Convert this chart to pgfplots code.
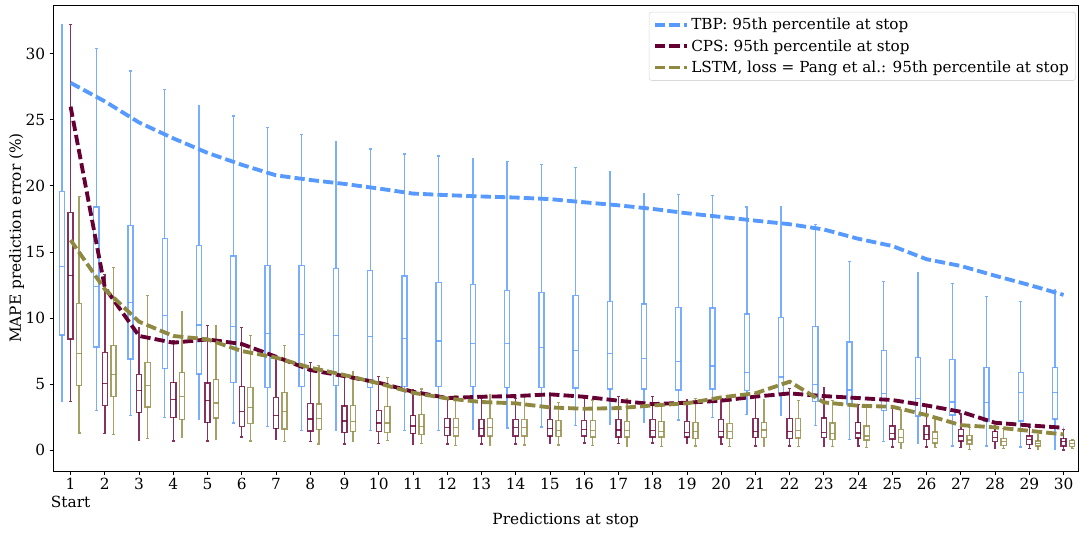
\documentclass[border=0pt]{standalone}
\usepackage{fontspec}
\setmainfont{DejaVu Serif}
\usepackage{pgfplots}
\usepackage{pgfplotstable}
\pgfplotsset{compat=1.18}
\usepgfplotslibrary{statistics}
\definecolor{tbpc}{RGB}{87,154,255}
\definecolor{cpsc}{RGB}{102,0,51}
\definecolor{lstmc}{RGB}{143,136,64}

% stop  lower-whisker  Q1  median  Q3  upper-whisker  95th percentile
\pgfplotstableread{
stop lw q1 med q3 uw p95
1 3.70 8.70 13.90 19.60 32.20 27.80
2 3.00 7.80 12.40 18.40 30.40 26.40
3 2.60 6.90 11.16 17.00 28.70 24.80
4 2.48 6.19 10.20 16.00 27.30 23.60
5 2.30 5.76 9.47 15.50 26.10 22.50
6 2.05 5.13 9.37 14.70 25.30 21.60
7 1.79 4.72 8.84 13.97 24.40 20.80
8 1.49 4.82 8.76 13.97 23.90 20.45
9 1.49 4.87 8.69 13.76 23.36 20.15
10 1.49 4.75 8.60 13.60 22.80 19.80
11 1.49 4.82 8.46 13.18 22.42 19.42
12 1.49 4.82 8.26 12.70 22.27 19.30
13 1.56 4.82 8.08 12.55 22.07 19.20
14 1.67 4.75 8.08 12.10 21.87 19.12
15 1.74 4.72 7.75 11.95 21.64 19.00
16 1.84 4.70 7.52 11.72 21.40 18.76
17 1.97 4.62 7.30 11.26 21.10 18.53
18 2.10 4.62 6.94 11.06 19.40 18.26
19 2.27 4.55 6.69 10.80 19.34 17.93
20 2.48 4.62 6.36 10.76 19.27 17.65
21 2.70 4.50 5.88 10.30 18.39 17.37
22 2.63 4.30 5.53 10.05 18.46 17.10
23 1.87 3.70 4.97 9.34 17.10 16.70
24 0.81 3.50 4.55 8.18 14.30 16.00
25 0.63 3.00 4.27 7.52 12.78 15.45
26 0.48 2.58 3.90 6.99 13.41 14.45
27 0.30 2.65 3.64 6.87 12.63 13.94
28 0.30 2.15 3.59 6.24 11.62 13.20
29 0.23 2.20 4.37 5.88 11.24 12.50
30 0.08 2.35 4.37 6.24 12.12 11.75
}\tbp

\pgfplotstableread{
stop lw q1 med q3 uw p95
1 3.70 8.40 13.20 18.00 32.20 26.00
2 1.24 3.36 5.05 7.40 13.30 12.30
3 0.76 2.85 4.52 5.73 9.27 8.64
4 0.68 2.48 3.84 5.10 8.26 8.13
5 0.68 2.10 3.76 5.08 9.42 8.38
6 1.00 1.77 2.90 4.80 9.27 8.03
7 0.81 1.64 2.60 3.99 7.07 7.07
8 0.66 1.44 2.35 3.53 6.61 6.06
9 0.45 1.34 2.20 3.33 5.68 5.60
10 0.50 1.39 2.05 3.00 5.56 5.10
11 0.43 1.26 1.82 2.60 4.57 4.42
12 0.45 1.11 1.72 2.40 3.90 3.94
13 0.45 1.06 1.64 2.32 3.90 4.04
14 0.45 1.06 1.72 2.32 3.90 4.09
15 0.48 1.06 1.64 2.32 4.09 4.22
16 0.53 1.06 1.56 2.25 3.90 4.04
17 0.48 1.00 1.52 2.32 4.04 3.74
18 0.53 1.00 1.49 2.32 4.04 3.48
19 0.53 0.98 1.31 2.17 3.79 3.59
20 0.45 0.98 1.41 2.32 3.90 3.74
21 0.30 0.96 1.41 2.40 4.29 4.05
22 0.30 0.86 1.39 2.37 4.67 4.29
23 0.28 0.93 1.34 2.42 4.72 4.09
24 0.30 0.91 1.29 2.07 3.46 3.94
25 0.23 0.83 1.24 1.82 3.16 3.79
26 0.23 0.81 1.16 1.82 3.28 3.38
27 0.18 0.68 1.06 1.57 2.73 2.90
28 0.13 0.63 0.96 1.39 1.82 2.07
29 0.13 0.43 0.81 1.06 1.72 1.87
30 0.00 0.30 0.63 0.86 1.57 1.69
}\cps

\pgfplotstableread{
stop lw q1 med q3 uw p95
1 1.30 4.90 7.30 11.10 19.20 15.90
2 1.16 4.07 5.70 7.90 13.80 12.17
3 0.86 3.26 4.90 6.64 11.70 9.72
4 0.93 2.32 4.04 5.86 10.45 8.64
5 0.81 2.42 3.56 5.33 9.42 8.38
6 0.68 2.00 3.21 4.75 8.69 7.50
7 0.63 1.59 2.90 4.34 7.90 7.00
8 0.45 1.57 2.40 3.50 6.39 6.24
9 0.66 1.41 2.17 3.36 5.96 5.68
10 0.71 1.31 2.05 3.28 5.48 5.05
11 0.50 1.16 1.80 2.68 4.62 4.34
12 0.33 1.06 1.72 2.40 4.14 3.91
13 0.33 1.06 1.70 2.40 4.22 3.64
14 0.38 1.06 1.70 2.32 4.09 3.54
15 0.38 1.03 1.49 2.22 3.61 3.23
16 0.33 1.00 1.49 2.22 3.79 3.13
17 0.28 0.98 1.47 2.17 3.91 3.18
18 0.28 0.98 1.41 2.15 3.36 3.38
19 0.30 0.88 1.41 2.10 3.89 3.54
20 0.25 0.88 1.39 2.02 3.84 3.99
21 0.25 0.93 1.52 2.07 3.84 4.30
22 0.25 0.91 1.46 2.37 3.76 5.18
23 0.25 0.78 1.26 2.05 3.74 3.61
24 0.20 0.76 1.06 1.82 3.38 3.36
25 0.13 0.56 0.96 1.57 3.03 3.28
26 0.18 0.53 0.86 1.36 2.35 2.65
27 0.05 0.45 0.76 1.09 1.70 1.89
28 0.10 0.35 0.63 0.86 1.64 1.72
29 0.05 0.30 0.50 0.68 1.14 1.46
30 0.13 0.25 0.48 0.71 0.81 1.19
}\lstm

% draw one prepared box plot from row #2 of table #1, colour #3, position #4
\newcommand\boxfromtable[4]{%
  \pgfplotstablegetelem{#2}{lw}\of#1\let\bLW\pgfplotsretval
  \pgfplotstablegetelem{#2}{q1}\of#1\let\bQA\pgfplotsretval
  \pgfplotstablegetelem{#2}{med}\of#1\let\bMD\pgfplotsretval
  \pgfplotstablegetelem{#2}{q3}\of#1\let\bQC\pgfplotsretval
  \pgfplotstablegetelem{#2}{uw}\of#1\let\bUW\pgfplotsretval
  \edef\bCmd{\noexpand\addplot[#3, draw opacity=0.8, line width=1pt, forget plot,
    boxplot prepared={draw position=#4, lower whisker=\bLW, lower quartile=\bQA,
      median=\bMD, upper quartile=\bQC, upper whisker=\bUW}] coordinates {};}%
  \bCmd
}

\begin{document}
\begin{tikzpicture}
\begin{axis}[
  scale only axis,
  width=747pt, height=340pt,
  xmin=0.5, xmax=30.42,
  ymin=-1.6, ymax=33.7,
  axis line style={line width=0.6pt},
  tick align=outside, tick pos=left,
  major tick length=2.6pt,
  tick style={line width=0.6pt, black},
  xtick={1,...,30},
  xticklabels={{1\\Start},2,3,4,5,6,7,8,9,10,11,12,13,14,15,16,17,18,19,20,21,22,23,24,25,26,27,28,29,30},
  xticklabel style={align=center, anchor=north, inner sep=2pt},
  ytick={0,5,...,30},
  /pgf/number format/assume math mode=true,
  ticklabel style={font=\fontsize{11.2}{13}\selectfont},
  label style={font=\fontsize{11.2}{13}\selectfont},
  xlabel={Predictions at stop},
  ylabel={MAPE prediction error (\%)},
  xlabel style={at={(axis description cs:0.5,-0.106)}, anchor=center},
  ylabel style={at={(axis description cs:-0.036,0.5)}, anchor=center},
  legend style={at={(0.998,0.985)}, anchor=north east, draw=black!15,
    rounded corners=2pt, font=\fontsize{11.1}{13.8}\selectfont,
    row sep=1.5pt, inner xsep=3pt, inner ysep=2.5pt},
  legend cell align=left,
  legend image code/.code={\draw[#1] (0pt,0pt) -- (23pt,0pt);},
  boxplot/draw direction=y,
  boxplot/box extend=0.15,
  boxplot/whisker extend=0.08,
]
\pgfplotsinvokeforeach{0,...,29}{
  \boxfromtable{\tbp}{#1}{tbpc}{#1+0.75}
  \boxfromtable{\cps}{#1}{cpsc}{#1+1}
  \boxfromtable{\lstm}{#1}{lstmc}{#1+1.25}
}
\addplot[tbpc, line width=2.8pt, dash pattern=on 7.5pt off 3pt] table[x=stop, y=p95] {\tbp};
\addlegendentry{TBP: 95th percentile at stop}
\addplot[cpsc, line width=2.8pt, dash pattern=on 7.5pt off 3pt] table[x=stop, y=p95] {\cps};
\addlegendentry{CPS: 95th percentile at stop}
\addplot[lstmc, line width=2.8pt, dash pattern=on 7.5pt off 3pt] table[x=stop, y=p95] {\lstm};
\addlegendentry{LSTM, loss = Pang et al.: 95th percentile at stop}
\end{axis}
\path ([xshift=-39pt,yshift=-44pt]current axis.south west) rectangle ([xshift=1.5pt,yshift=3.6pt]current axis.north east);
\end{tikzpicture}
\end{document}
